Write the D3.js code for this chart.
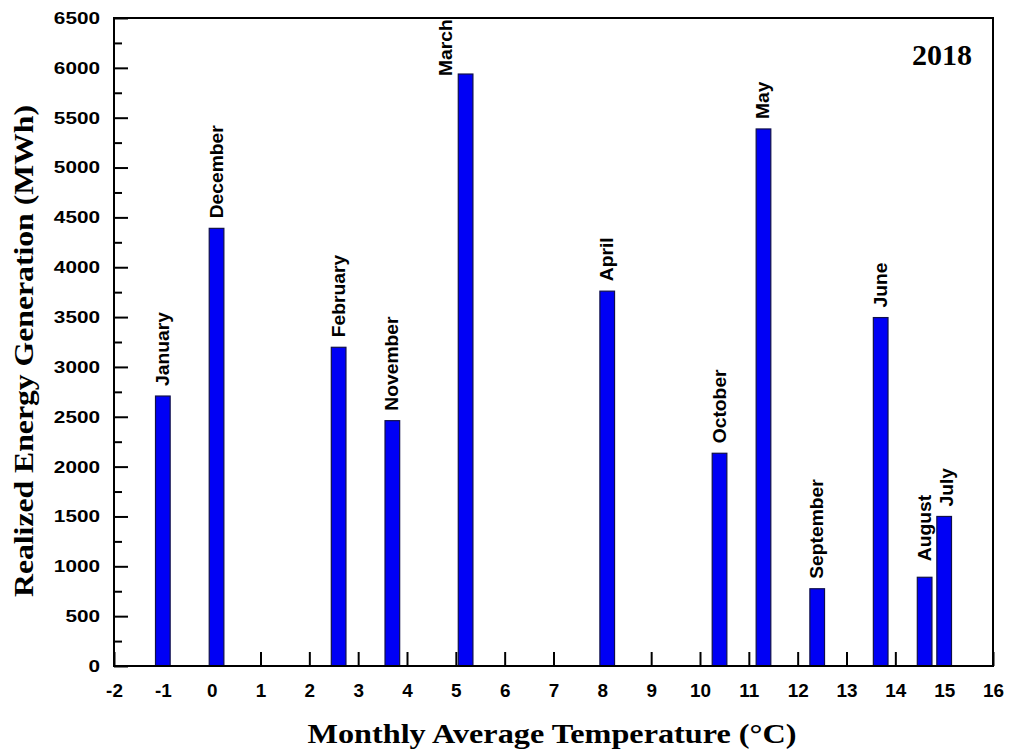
<!DOCTYPE html>
<html>
<head>
<meta charset="utf-8">
<script src="https://cdn.jsdelivr.net/npm/d3@7/dist/d3.min.js"></script>
<style>
  body { margin: 0; background: #fff; }
  svg { display: block; }
</style>
</head>
<body>
<svg id="chart" width="1012" height="753"></svg>
<script>
// data (2018)
const months = ['January', 'December', 'February', 'November', 'March', 'April',
  'October', 'May', 'September', 'June', 'August', 'July'];
const temps = [-1, 0.1, 2.6, 3.7, 5.2, 8.1, 10.4, 11.3, 12.4, 13.7, 14.6, 15.0];
const energy = [2708, 4390, 3197, 2461, 5938, 3760, 2134, 5387, 775, 3495, 890, 1500];
const xTicks = [-2, -1, 0, 1, 2, 3, 4, 5, 6, 7, 8, 9, 10, 11, 12, 13, 14, 15, 16];
const yTicks = [0, 500, 1000, 1500, 2000, 2500, 3000, 3500, 4000, 4500, 5000, 5500, 6000, 6500];
const yMinorTicks = [250, 750, 1250, 1750, 2250, 2750, 3250, 3750, 4250, 4750, 5250, 5750, 6250];

// a few labels were hand-placed in the original
const labelNudge = {March: [-20, 12], August: [0, -6], July: [3, 0]};

const margin = {top: 18, right: 19, bottom: 87, left: 114};
const width = 1012 - margin.left - margin.right;
const height = 753 - margin.top - margin.bottom;
const barW = 0.3; // bar width in degrees
const sans = '"Liberation Sans", Arial, sans-serif';
const serif = '"Liberation Serif", "Times New Roman", serif';

const svg = d3.select('#chart');
const g = svg.append('g')
  .attr('transform', `translate(${margin.left},${margin.top})`);

const x = d3.scaleLinear().domain([-2, 16]).range([0, width]);
const y = d3.scaleLinear().domain([0, 6500]).range([height, 0]);

const data = months.map((m, i) => ({month: m, t: temps[i], e: energy[i]}));

// stretch text along its reading direction (the original glyphs are wider)
function stretch(sel, k) {
  sel.each(function () {
    const len = this.getComputedTextLength();
    d3.select(this).attr('textLength', len * k).attr('lengthAdjust', 'spacingAndGlyphs');
  });
}

// y axis: major + minor ticks, inward
const yAxis = g.append('g')
  .call(d3.axisLeft(y).tickValues(yTicks).tickSizeInner(-14).tickSizeOuter(0).tickPadding(14)
    .tickFormat(d => String(d)));
yAxis.select('.domain').remove();
yAxis.selectAll('line').attr('stroke', '#000').attr('stroke-width', 2);
yAxis.selectAll('text')
  .style('font-family', sans)
  .style('font-weight', 'bold')
  .style('font-size', '17px')
  .attr('fill', '#000')
  .call(stretch, 1.22);

const yMinor = g.append('g')
  .call(d3.axisLeft(y).tickValues(yMinorTicks).tickSizeInner(-8).tickSizeOuter(0).tickFormat(''));
yMinor.select('.domain').remove();
yMinor.selectAll('line').attr('stroke', '#000').attr('stroke-width', 2);

// x axis, inward ticks
const xAxis = g.append('g')
  .attr('transform', `translate(0,${height})`)
  .call(d3.axisBottom(x).tickValues(xTicks).tickSizeInner(-14).tickSizeOuter(0).tickPadding(18)
    .tickFormat(d => String(d)));
xAxis.select('.domain').remove();
xAxis.selectAll('line').attr('stroke', '#000').attr('stroke-width', 2);
xAxis.selectAll('text')
  .style('font-family', sans)
  .style('font-weight', 'bold')
  .style('font-size', '18px')
  .attr('fill', '#000')
  .call(stretch, 1.05);

// bars (drawn over the tick marks)
g.selectAll('rect.bar')
  .data(data)
  .join('rect')
  .attr('class', 'bar')
  .attr('x', d => x(d.t - barW / 2))
  .attr('y', d => y(d.e))
  .attr('width', d => x(d.t + barW / 2) - x(d.t - barW / 2))
  .attr('height', d => y(0) - y(d.e))
  .attr('fill', '#0000f5')
  .attr('stroke', '#10104a')
  .attr('stroke-width', 1.2);

// month labels, rotated
g.selectAll('text.month')
  .data(data)
  .join('text')
  .attr('class', 'month')
  .attr('transform', d => {
    const n = labelNudge[d.month] || [0, 0];
    return `translate(${x(d.t) + 6 + n[0]},${y(d.e) - 10 + n[1]}) rotate(-90)`;
  })
  .style('font-family', sans)
  .style('font-weight', 'bold')
  .style('font-size', '18px')
  .text(d => d.month)
  .call(stretch, 1.07);

// frame
g.append('rect')
  .attr('x', 0)
  .attr('y', 0)
  .attr('width', width)
  .attr('height', height)
  .attr('fill', 'none')
  .attr('stroke', '#000')
  .attr('stroke-width', 2);

// titles
svg.append('text')
  .attr('x', 552)
  .attr('y', 743)
  .attr('text-anchor', 'middle')
  .style('font-family', serif)
  .style('font-weight', 'bold')
  .style('font-size', '27px')
  .attr('textLength', 489)
  .attr('lengthAdjust', 'spacingAndGlyphs')
  .text('Monthly Average Temperature (°C)');

svg.append('text')
  .attr('transform', 'translate(33,351) rotate(-90)')
  .attr('text-anchor', 'middle')
  .style('font-family', serif)
  .style('font-weight', 'bold')
  .style('font-size', '27px')
  .attr('textLength', 492)
  .attr('lengthAdjust', 'spacingAndGlyphs')
  .text('Realized Energy Generation (MWh)');

svg.append('text')
  .attr('x', 972)
  .attr('y', 65)
  .attr('text-anchor', 'end')
  .style('font-family', serif)
  .style('font-weight', 'bold')
  .style('font-size', '30px')
  .text('2018');
</script>
</body>
</html>
